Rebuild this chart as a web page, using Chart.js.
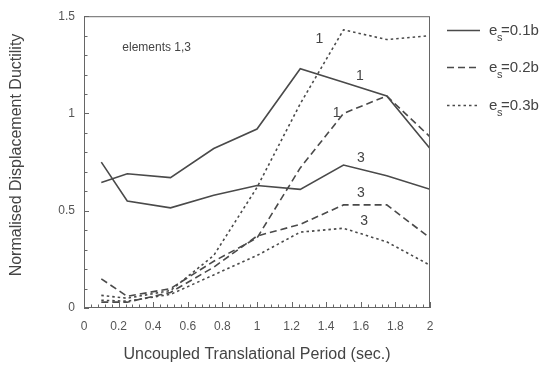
<!DOCTYPE html>
<html>
<head>
<meta charset="utf-8">
<script src="https://cdn.jsdelivr.net/npm/chart.js@4/dist/chart.umd.min.js"></script>
<style>
html,body{margin:0;padding:0;background:#fff;}
#wrap{width:545px;height:368px;position:relative;}
</style>
</head>
<body>
<div id="wrap"><canvas id="c" width="545" height="368"></canvas></div>
<script>
// ---- data ----
const periods = [0.1, 0.25, 0.5, 0.75, 1.0, 1.25, 1.5, 1.75, 2.0];
const es01_el1 = [0.645, 0.69, 0.67, 0.82, 0.92, 1.23, 1.16, 1.09, 0.82];
const es01_el3 = [0.75, 0.55, 0.515, 0.58, 0.63, 0.61, 0.735, 0.68, 0.61];
const es02_el1 = [0.15, 0.06, 0.10, 0.24, 0.36, 0.72, 1.0, 1.09, 0.88];
const es02_el3 = [0.03, 0.03, 0.08, 0.21, 0.37, 0.43, 0.53, 0.53, 0.36];
const es03_el1 = [0.065, 0.05, 0.09, 0.27, 0.62, 1.05, 1.43, 1.38, 1.40];
const es03_el3 = [0.04, 0.035, 0.07, 0.17, 0.27, 0.39, 0.41, 0.34, 0.22];
const xTicks = [0, 0.2, 0.4, 0.6, 0.8, 1, 1.2, 1.4, 1.6, 1.8, 2];
const yTicks = [0, 0.5, 1, 1.5];
const legendLabels = ['0.1b', '0.2b', '0.3b'];
const xTitle = 'Uncoupled Translational Period (sec.)';
const yTitle = 'Normalised Displacement Ductility';
const curveLabels = [
  {t: '1', x: 1.36, y: 1.38},
  {t: '1', x: 1.595, y: 1.19},
  {t: '1', x: 1.46, y: 1.00},
  {t: '3', x: 1.60, y: 0.77},
  {t: '3', x: 1.60, y: 0.59},
  {t: '3', x: 1.62, y: 0.445}
];

const toXY = arr => arr.map((v, i) => ({x: periods[i], y: v}));
const lineCol = '#4a4a4a';
const styles = [[], [7, 4], [2.5, 3]];
const FONT = '"Liberation Sans", Arial, sans-serif';

function ds(arr, si) {
  return {data: toXY(arr), borderColor: lineCol, borderWidth: 1.6, borderDash: styles[si],
    pointRadius: 0, tension: 0, fill: false};
}

const decor = {
  id: 'decor',
  afterDatasetsDraw(chart) {
    const {ctx, chartArea: a, scales: {x, y}} = chart;
    ctx.save();
    // frame
    ctx.strokeStyle = '#666';
    ctx.lineWidth = 1;
    ctx.setLineDash([]);
    ctx.strokeRect(a.left + 0.5, a.top + 0.5, a.right - a.left - 1, a.bottom - a.top - 1);
    // inward ticks
    ctx.beginPath();
    for (let i = 0; i <= 50; i++) {
      const v = i * 0.04;
      const px = Math.round(x.getPixelForValue(v)) + 0.5;
      const len = (i % 5 === 0) ? 6 : 3.5;
      ctx.moveTo(px, a.bottom);
      ctx.lineTo(px, a.bottom - len);
    }
    for (let i = 0; i <= 15; i++) {
      const v = i * 0.1;
      const py = Math.round(y.getPixelForValue(v)) + 0.5;
      const len = (i % 5 === 0) ? 5 : 3.5;
      ctx.moveTo(a.left, py);
      ctx.lineTo(a.left + len, py);
    }
    ctx.stroke();
    // axis titles
    ctx.fillStyle = '#444';
    ctx.textAlign = 'center';
    ctx.textBaseline = 'middle';
    ctx.font = '16px ' + FONT;
    ctx.fillText(xTitle, (a.left + a.right) / 2, 355);
    ctx.save();
    ctx.translate(17, 155);
    ctx.rotate(-Math.PI / 2);
    ctx.fillText(yTitle, 0, 0);
    ctx.restore();
    // text in plot
    ctx.font = '12px ' + FONT;
    ctx.fillText('elements 1,3', x.getPixelForValue(0.42), y.getPixelForValue(1.34));
    ctx.font = '14px ' + FONT;
    curveLabels.forEach(l => ctx.fillText(l.t, x.getPixelForValue(l.x), y.getPixelForValue(l.y)));
    // legend
    const rows = [30, 67, 105];
    rows.forEach((ry, i) => {
      ctx.strokeStyle = lineCol;
      ctx.lineWidth = 1.6;
      ctx.setLineDash(styles[i]);
      ctx.beginPath();
      ctx.moveTo(447, ry + 0.5);
      ctx.lineTo(480, ry + 0.5);
      ctx.stroke();
      ctx.setLineDash([]);
      ctx.textAlign = 'left';
      ctx.textBaseline = 'alphabetic';
      ctx.font = '15px ' + FONT;
      ctx.fillText('e', 489, ry + 5);
      ctx.font = '11px ' + FONT;
      ctx.fillText('s', 497, ry + 11);
      ctx.font = '15px ' + FONT;
      ctx.fillText('=' + legendLabels[i], 501, ry + 5);
    });
    ctx.restore();
  }
};

const fmt = v => String(Math.round(v * 10) / 10);

new Chart(document.getElementById('c'), {
  type: 'line',
  data: {
    datasets: [ds(es01_el1, 0), ds(es01_el3, 0), ds(es02_el1, 1), ds(es02_el3, 1), ds(es03_el1, 2), ds(es03_el3, 2)]
  },
  options: {
    responsive: false,
    animation: false,
    devicePixelRatio: 1,
    layout: {padding: {left: 0, right: 115, top: 11, bottom: 0}},
    plugins: {legend: {display: false}, tooltip: {enabled: false}},
    scales: {
      x: {
        type: 'linear', min: 0, max: 2,
        afterBuildTicks: s => { s.ticks = xTicks.map(v => ({value: v})); },
        afterFit: s => { s.height = 60; },
        grid: {display: false, drawTicks: false},
        border: {display: false},
        ticks: {callback: fmt, padding: 11, color: '#555', maxRotation: 0, autoSkip: false,
          font: {family: FONT, size: 12}},
        title: {display: false}
      },
      y: {
        type: 'linear', min: 0, max: 1.5,
        afterBuildTicks: s => { s.ticks = yTicks.map(v => ({value: v})); },
        afterFit: s => { s.width = 84; },
        grid: {display: false, drawTicks: false},
        border: {display: false},
        ticks: {callback: fmt, padding: 9, color: '#555',
          font: {family: FONT, size: 12}},
        title: {display: false}
      }
    }
  },
  plugins: [decor]
});
</script>
</body>
</html>
